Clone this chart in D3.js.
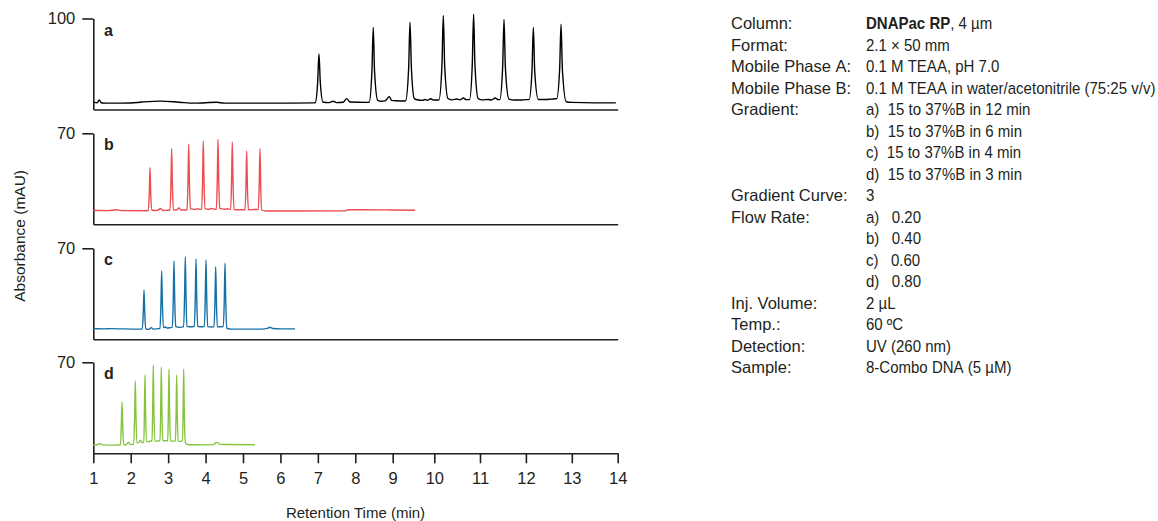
<!DOCTYPE html>
<html>
<head>
<meta charset="utf-8">
<script src="https://cdn.jsdelivr.net/npm/d3@7"></script>
<style>
  html, body { margin: 0; padding: 0; background: #fff; }
  svg text { font-family: "Liberation Sans", Arial, sans-serif; fill: #231f20; }
  .axis .domain, .axis line { stroke: #231f20; stroke-width: 1.6; }
</style>
</head>
<body>
<script>
// ---------------- DATA ----------------
const panelLabels = ["a", "b", "c", "d"];
const yTopValues = [100, 70, 70, 70];
const xTickValues = [1, 2, 3, 4, 5, 6, 7, 8, 9, 10, 11, 12, 13, 14];
const xAxisTitle = "Retention Time (min)";
const yAxisTitle = "Absorbance (mAU)";

// [retention time (min), absorbance (mAU)]
const traceA = [
  [1.02,7.8],[1.1,7.4],[1.16,10.5],[1.22,7.2],[1.5,7.0],[2.0,7.2],[2.3,8.2],[2.8,9.2],[3.3,8.0],[3.7,7.0],[4.3,7.9],[4.5,7.0],[6.0,7.0],[6.9,7.3],
  [6.93,7.5],[6.995,30],[7.03,61.1],[7.065,30],[7.14,8.0],[7.3,7.6],[7.41,9.1],[7.5,7.6],[7.68,8.0],[7.77,12],[7.86,8.2],[8.3,7.8],
  [8.37,8.0],[8.445,42],[8.48,90.2],[8.515,42],[8.6,10],[8.7,9.0],[8.8,9.5],[8.91,14.2],[8.97,10],[9.1,9.6],[9.25,9.4],
  [9.31,9.6],[9.383,45],[9.416,96],[9.45,45],[9.52,12],[9.62,10.4],[9.72,10],[9.776,11],[9.84,10.2],[9.91,11.8],[9.98,10.4],
  [10.1,10.4],[10.167,48],[10.197,103.3],[10.227,48],[10.3,12],[10.4,10.6],[10.49,11.5],[10.56,10.6],[10.635,12.6],[10.7,10.8],
  [10.77,10.8],[10.83,48],[10.86,104.7],[10.89,48],[10.96,12],[11.05,10.6],[11.18,11],[11.25,10.4],[11.33,12.6],[11.4,10.8],
  [11.43,10.8],[11.493,46],[11.523,98.9],[11.553,46],[11.63,11.5],[11.75,10.4],[11.9,10.4],[12.0,10.8],
  [12.07,10.8],[12.132,42],[12.162,90.2],[12.192,42],[12.27,11],[12.4,11],[12.55,11.4],[12.65,11.8],
  [12.67,11.8],[12.735,44],[12.765,93.8],[12.795,44],[12.88,8.5],[13.0,7.8],[13.5,7.3],[13.96,7.3]
];
const traceB = [
  [1.0,10.8],[1.4,10.5],[1.62,11.2],[1.75,10.5],[2.4,10.4],
  [2.47,10.5],[2.497,25],[2.515,43.8],[2.533,25],[2.565,11],[2.65,10.6],[2.72,10.8],[2.8,12.2],[2.85,10.6],[3.0,10.8],
  [3.05,10.8],[3.076,32],[3.094,58.2],[3.112,32],[3.14,11.2],[3.22,11],[3.29,12.6],[3.34,11],[3.45,11],
  [3.505,11.2],[3.531,34],[3.549,61.5],[3.567,34],[3.595,12],[3.7,11.4],[3.8,12],[3.85,11.5],
  [3.895,11.5],[3.921,35],[3.939,64.1],[3.957,35],[3.985,12.2],[4.08,11.4],[4.15,12.2],[4.25,11.6],
  [4.288,11.6],[4.314,36],[4.332,65.4],[4.35,36],[4.378,12.2],[4.5,11.6],[4.6,12],[4.64,11.5],
  [4.67,11.5],[4.696,35],[4.714,63.3],[4.732,35],[4.76,11.4],[4.9,11.2],[5.02,11.2],
  [5.054,11.2],[5.08,31],[5.098,56.4],[5.116,31],[5.144,11.2],[5.25,11.3],[5.38,11.4],
  [5.409,11.4],[5.435,32],[5.453,58.2],[5.471,32],[5.5,11],[5.6,10.2],[6.5,10.2],[7.7,10.3],[7.82,11.2],[8.2,11.2],[9.0,11.0],[9.54,10.8]
];
const traceC = [
  [1.0,8.3],[1.3,8.0],[1.45,8.2],[2.2,7.8],
  [2.31,7.8],[2.337,22],[2.355,37.9],[2.373,22],[2.4,8],[2.48,7.6],[2.55,9.0],[2.6,7.8],[2.75,8.2],
  [2.783,8.2],[2.809,29],[2.827,52.5],[2.845,29],[2.873,9],[2.93,9.5],[2.97,8.6],[3.1,9.2],
  [3.112,9.2],[3.138,33],[3.156,60.2],[3.174,33],[3.2,10],[3.3,9.2],[3.4,9.6],
  [3.414,9.6],[3.44,35],[3.458,63.3],[3.476,35],[3.5,10],[3.6,9.6],[3.68,9.8],
  [3.7,9.8],[3.726,34],[3.744,61.8],[3.762,34],[3.788,10],[3.9,9.6],[3.95,9.8],
  [3.967,9.8],[3.993,34],[4.011,61],[4.029,34],[4.055,9.8],[4.15,9.5],[4.21,9.7],
  [4.226,9.7],[4.252,31],[4.27,55.8],[4.288,31],[4.314,9.6],[4.4,9.6],[4.46,9.8],
  [4.475,9.8],[4.501,32],[4.519,58.5],[4.537,32],[4.565,8.5],[4.7,7.8],[5.5,7.8],[5.65,8.4],[5.72,9.3],[5.8,8.3],[6.0,8.0],[6.39,8.0]
];
const traceD = [
  [1.0,6.4],[1.1,6.6],[1.17,7.4],[1.25,6.5],[1.6,6.3],[1.7,6.4],
  [1.725,6.4],[1.75,23],[1.767,39.7],[1.784,23],[1.81,6.8],[1.88,6.6],[1.94,8.5],[1.99,6.8],[2.07,7],
  [2.08,7],[2.105,30],[2.122,55.6],[2.139,30],[2.165,8],[2.21,8.2],[2.26,10],[2.3,8.4],[2.34,8.2],
  [2.35,8.2],[2.366,33],[2.381,60.2],[2.396,33],[2.42,9],[2.48,9],[2.53,9.5],
  [2.57,9.4],[2.588,37],[2.603,67.9],[2.618,37],[2.642,9.5],[2.72,9.4],[2.76,9.8],
  [2.784,9.6],[2.802,36],[2.817,66.4],[2.832,36],[2.856,9.8],[2.93,9.6],[2.96,9.6],
  [2.989,9.6],[3.007,35],[3.022,64.8],[3.037,35],[3.061,9.6],[3.13,9.4],[3.18,9.6],
  [3.195,9.6],[3.213,33],[3.228,60.2],[3.243,33],[3.267,9.4],[3.33,9.2],[3.37,9.6],
  [3.385,9.6],[3.4,35],[3.415,64.8],[3.43,35],[3.46,8],[3.55,6.6],[4.1,6.5],[4.22,6.9],[4.3,8.4],[4.38,6.9],[4.6,6.8],[5.32,6.6]
];
const traces = [traceA, traceB, traceC, traceD];

const paramLabels = ["Column:", "Format:", "Mobile Phase A:", "Mobile Phase B:", "Gradient:", "", "", "",
  "Gradient Curve:", "Flow Rate:", "", "", "", "Inj. Volume:", "Temp.:", "Detection:", "Sample:"];
const paramValues = ["DNAPac RP|, 4 µm", "2.1 × 50 mm", "0.1 M TEAA, pH 7.0", "0.1 M TEAA in water/acetonitrile (75:25 v/v)",
  "a)  15 to 37%B in 12 min", "b)  15 to 37%B in 6 min", "c)  15 to 37%B in 4 min", "d)  15 to 37%B in 3 min",
  "3", "a)   0.20", "b)   0.40", "c)   0.60", "d)   0.80", "2 µL", "60 ºC", "UV (260 nm)", "8-Combo DNA (5 µM)"];

// ---------------- LAYOUT / STYLE ----------------
const W = 1158, H = 521;
const X_BREAKS = [1, 9, 10, 11, 14];           // the printed axis is not uniform
const X_PIX = [93.3, 392.7, 434.3, 480, 617.7];
const PANEL_TOPS = [18.5, 133.3, 248.3, 362.3];
const PANEL_H = 91;
const COLORS = ["#000000", "#ee4c4f", "#1670a6", "#86c440"];
const nb = s => s.replace(/ /g, "\u00a0");

const svg = d3.select("body").append("svg").attr("width", W).attr("height", H);
const x = d3.scaleLinear().domain(X_BREAKS).range(X_PIX);

panelLabels.forEach((lab, i) => {
  const top = PANEL_TOPS[i], bottom = top + PANEL_H;
  const y = d3.scaleLinear().domain([0, yTopValues[i]]).range([bottom, top]);

  svg.append("g").attr("class", "axis")
    .attr("transform", `translate(${X_PIX[0]},0)`)
    .call(d3.axisLeft(y).tickValues([yTopValues[i]]).tickSize(11).tickSizeOuter(0).tickPadding(7))
    .selectAll("text").style("font-size", "16.5px");

  const xa = svg.append("g").attr("class", "axis")
    .attr("transform", `translate(0,${bottom})`)
    .call(d3.axisBottom(x).tickValues(i === 3 ? xTickValues : []).tickSize(10).tickSizeOuter(0).tickPadding(9).tickFormat(d3.format("d")));
  xa.selectAll("text").style("font-size", "16.5px");

  svg.append("path")
    .datum(traces[i])
    .attr("fill", "none")
    .attr("stroke", COLORS[i])
    .attr("stroke-width", 1.4)
    .attr("stroke-linejoin", "round")
    .attr("d", d3.line().x(d => x(d[0])).y(d => y(d[1])).curve(d3.curveMonotoneX));

  svg.append("text")
    .attr("x", 104).attr("y", top + 17)
    .attr("font-weight", "bold").attr("font-size", 16)
    .text(lab);
});

svg.append("text")
  .attr("x", (X_PIX[0] + X_PIX[X_PIX.length - 1]) / 2).attr("y", 518)
  .attr("text-anchor", "middle").attr("font-size", 15)
  .text(xAxisTitle);

svg.append("text")
  .attr("transform", `translate(25,${(PANEL_TOPS[0] + PANEL_TOPS[3] + PANEL_H) / 2}) rotate(-90)`)
  .attr("text-anchor", "middle").attr("font-size", 15.5)
  .text(yAxisTitle);

const tb = svg.append("g").attr("font-size", 16.5);
paramLabels.forEach((l, k) => {
  const yy = 29 + k * 21.5;
  tb.append("text").attr("x", 731).attr("y", yy).text(nb(l));
  const t = tb.append("text").attr("transform", `translate(866,${yy}) scale(0.91,1)`);
  const v = paramValues[k];
  if (v.includes("|")) {
    const [b, r] = v.split("|");
    t.append("tspan").attr("font-weight", "bold").text(nb(b));
    t.append("tspan").text(nb(r));
  } else {
    t.text(nb(v));
  }
});
</script>
</body>
</html>
